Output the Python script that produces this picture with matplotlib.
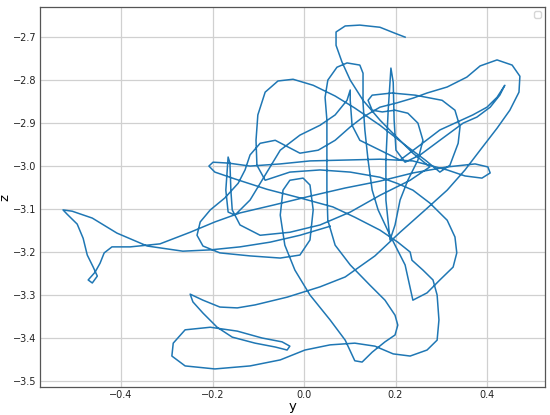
import matplotlib
matplotlib.use('Agg')
import matplotlib.pyplot as plt

# trajectory projected on the y-z plane
y = [0.057, -0.009, -0.074, -0.140, -0.205, -0.265, -0.343, -0.409, -0.463, -0.507,
     -0.527, -0.518, -0.496, -0.483, -0.474, -0.461, -0.452, -0.463, -0.472, -0.457,
     -0.446, -0.437, -0.420, -0.380, -0.315, -0.249, -0.195, -0.140, -0.068, 0.013,
     0.090, 0.166, 0.238, 0.313, 0.374, 0.402, 0.407, 0.389, 0.352, 0.313,
     0.238, 0.166, 0.090, 0.013, -0.052, -0.118, -0.166, -0.199, -0.208, -0.195,
     -0.151, -0.081, -0.009, 0.063, 0.111, 0.166, 0.205, 0.232, 0.236, 0.260,
     0.282, 0.291, 0.295, 0.291, 0.269, 0.232, 0.195, 0.155, 0.111, 0.057,
     0.002, -0.052, -0.118, -0.195, -0.260, -0.289, -0.286, -0.260, -0.205, -0.146,
     -0.092, -0.048, -0.031, -0.037, -0.063, -0.107, -0.157, -0.190, -0.221, -0.243,
     -0.249, -0.221, -0.184, -0.146, -0.107, -0.037, 0.035, 0.090, 0.155, 0.210,
     0.265, 0.313, 0.352, 0.385, 0.422, 0.450, 0.470, 0.472, 0.455, 0.422,
     0.385, 0.356, 0.313, 0.269, 0.238, 0.203, 0.166, 0.129, 0.101, 0.068,
     0.031, -0.009, -0.063, -0.096, -0.118, -0.129, -0.144, -0.173, -0.205, -0.227,
     -0.234, -0.221, -0.184, -0.118, -0.052, -0.009, 0.013, 0.020, 0.013, -0.002,
     -0.031, -0.046, -0.052, -0.042, -0.020, 0.013, 0.057, 0.090, 0.111, 0.127,
     0.149, 0.177, 0.199, 0.205, 0.199, 0.177, 0.144, 0.101, 0.068, 0.052,
     0.050, 0.050, 0.050, 0.046, 0.052, 0.072, 0.094, 0.122, 0.129, 0.129,
     0.133, 0.140, 0.149, 0.162, 0.188, 0.221, 0.238, 0.269, 0.297, 0.326,
     0.334, 0.330, 0.313, 0.275, 0.238, 0.203, 0.166, 0.101, 0.035, -0.031,
     -0.085, -0.103, -0.105, -0.101, -0.085, -0.057, -0.024, 0.020, 0.068, 0.111,
     0.166, 0.221, 0.265, 0.297, 0.319, 0.337, 0.341, 0.330, 0.302, 0.243,
     0.192, 0.149, 0.140, 0.149, 0.171, 0.199, 0.227, 0.249, 0.260, 0.249,
     0.227, 0.210, 0.199, 0.188, 0.179, 0.179, 0.184, 0.188, 0.190, 0.195,
     0.197, 0.201, 0.221, 0.254, 0.297, 0.348, 0.378, 0.407, 0.428, 0.439,
     0.422, 0.400, 0.369, 0.334, 0.297, 0.254, 0.210, 0.122, 0.105, 0.101,
     0.101, 0.094, 0.068, 0.035, -0.009, -0.052, -0.085, -0.118, -0.151, -0.166,
     -0.171, -0.168, -0.166, -0.162, -0.160, -0.157, -0.140, -0.096, -0.031, 0.035,
     0.101, 0.166, 0.232, 0.275, 0.238, 0.203, 0.166, 0.129, 0.101, 0.083,
     0.070, 0.070, 0.090, 0.122, 0.166, 0.199, 0.221]
z = [-3.140, -3.161, -3.177, -3.188, -3.195, -3.198, -3.186, -3.156, -3.121, -3.105,
     -3.102, -3.112, -3.135, -3.168, -3.207, -3.235, -3.256, -3.272, -3.265, -3.247,
     -3.226, -3.202, -3.188, -3.188, -3.181, -3.154, -3.130, -3.109, -3.091, -3.070,
     -3.051, -3.035, -3.016, -3.002, -2.995, -3.002, -3.016, -3.028, -3.023, -3.009,
     -2.988, -2.984, -2.986, -2.988, -2.995, -3.000, -2.993, -2.991, -3.000, -3.014,
     -3.030, -3.054, -3.074, -3.095, -3.119, -3.149, -3.177, -3.200, -3.219, -3.242,
     -3.265, -3.300, -3.358, -3.405, -3.428, -3.442, -3.437, -3.419, -3.412, -3.416,
     -3.428, -3.451, -3.465, -3.472, -3.465, -3.442, -3.412, -3.381, -3.375, -3.384,
     -3.400, -3.409, -3.419, -3.428, -3.421, -3.412, -3.398, -3.375, -3.342, -3.316,
     -3.298, -3.312, -3.328, -3.330, -3.323, -3.305, -3.281, -3.258, -3.209, -3.154,
     -3.102, -3.056, -3.009, -2.963, -2.912, -2.870, -2.828, -2.791, -2.765, -2.753,
     -2.767, -2.793, -2.816, -2.830, -2.842, -2.853, -2.863, -2.886, -2.909, -2.940,
     -2.963, -2.970, -2.940, -2.947, -2.974, -3.009, -3.040, -3.074, -3.102, -3.130,
     -3.161, -3.186, -3.202, -3.209, -3.214, -3.207, -3.172, -3.102, -3.044, -3.028,
     -3.033, -3.056, -3.114, -3.184, -3.242, -3.300, -3.358, -3.405, -3.453, -3.456,
     -3.433, -3.409, -3.393, -3.370, -3.347, -3.312, -3.277, -3.230, -3.184, -3.126,
     -3.056, -2.986, -2.893, -2.840, -2.800, -2.770, -2.760, -2.765, -2.784, -2.853,
     -2.916, -2.986, -3.056, -3.102, -3.161, -3.230, -3.312, -3.295, -3.265, -3.235,
     -3.202, -3.165, -3.126, -3.086, -3.056, -3.040, -3.026, -3.014, -3.009, -3.014,
     -3.033, -2.998, -2.940, -2.881, -2.828, -2.802, -2.798, -2.812, -2.837, -2.865,
     -2.905, -2.951, -2.986, -3.014, -2.998, -2.947, -2.909, -2.870, -2.847, -2.835,
     -2.830, -2.835, -2.847, -2.870, -2.874, -2.870, -2.877, -2.900, -2.940, -2.986,
     -3.033, -3.079, -3.137, -3.172, -3.079, -2.986, -2.870, -2.805, -2.772, -2.805,
     -2.893, -2.963, -2.991, -2.974, -2.940, -2.900, -2.886, -2.863, -2.835, -2.812,
     -2.840, -2.863, -2.881, -2.898, -2.916, -2.951, -2.986, -2.940, -2.905, -2.847,
     -2.823, -2.847, -2.881, -2.905, -2.928, -2.963, -3.021, -3.079, -3.114, -3.107,
     -3.056, -3.009, -2.979, -2.993, -3.056, -3.102, -3.137, -3.161, -3.154, -3.137,
     -3.107, -3.068, -3.033, -3.002, -2.970, -2.933, -2.893, -2.847, -2.800, -2.758,
     -2.719, -2.688, -2.674, -2.672, -2.677, -2.691, -2.700]

fig = plt.figure(figsize=(5.5, 4.15), dpi=100)
ax = fig.add_axes([0.073, 0.0675, 0.918, 0.9155])
ax.plot(y, z, color='#1f77b4', linewidth=1.1)

ax.set_xlim(-0.577, 0.527)
ax.set_ylim(-3.514, -2.630)
ax.set_xticks([-0.4, -0.2, 0.0, 0.2, 0.4])
ax.set_yticks([-3.5, -3.4, -3.3, -3.2, -3.1, -3.0, -2.9, -2.8, -2.7])
ax.grid(True, color='#d0d0d0', linewidth=0.9)
ax.set_axisbelow(True)
ax.tick_params(length=0, labelsize=7, pad=2.5, colors='#222222')
for s in ax.spines.values():
    s.set_color('#555555')
    s.set_linewidth(0.9)
ax.set_xlabel('y', fontsize=9.5, labelpad=0)
ax.set_ylabel('z', fontsize=9.5, labelpad=1)
ax.legend(handles=[], loc='upper right', fontsize=6)

fig.savefig('out.png', dpi=100)
